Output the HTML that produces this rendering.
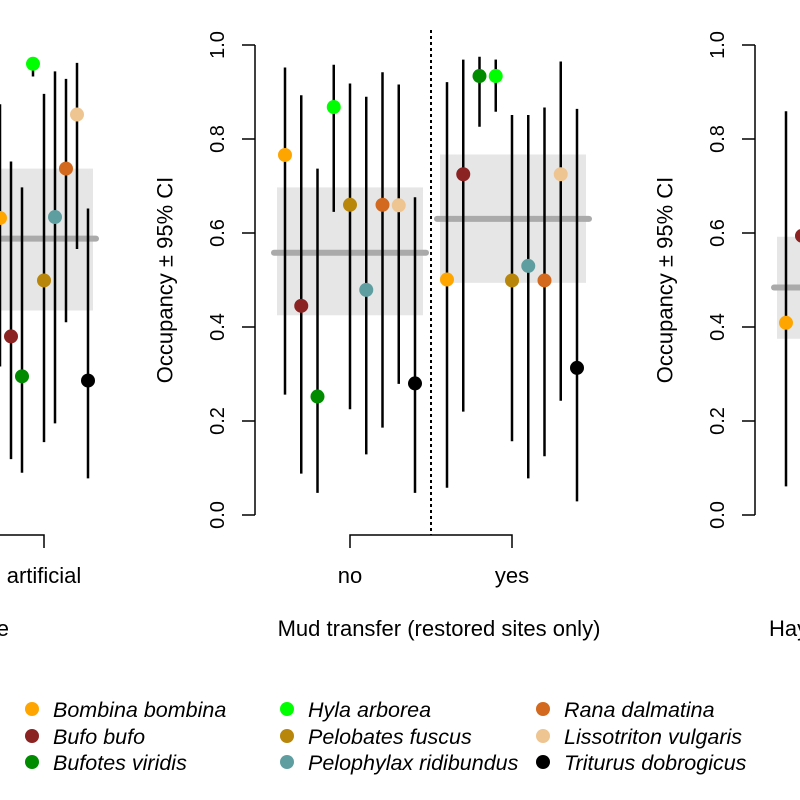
<!DOCTYPE html>
<html><head><meta charset="utf-8"><style>
html,body{margin:0;padding:0;background:#fff;}
svg{display:block;font-family:"Liberation Sans",Arial,sans-serif;}
</style></head><body>
<svg id="chart" width="800" height="800" viewBox="0 0 800 800" xmlns="http://www.w3.org/2000/svg"></svg>
<script>
const species = ["Bombina bombina","Bufo bufo","Bufotes viridis","Hyla arborea","Pelobates fuscus","Pelophylax ridibundus","Rana dalmatina","Lissotriton vulgaris","Triturus dobrogicus"];
const colors = ["#FFA500","#8B2323","#008B00","#00FF00","#B8860B","#5F9EA0","#D2691E","#EEC591","#000000"];
// Left panel (artificial category)
const leftEst = [0.632,0.380,0.295,0.960,0.499,0.634,0.737,0.852,0.286];
const leftLo  = [0.316,0.119,0.090,0.933,0.155,0.195,0.410,0.566,0.078];
const leftHi  = [0.874,0.752,0.697,0.970,0.896,0.944,0.928,0.962,0.652];
const leftGroup = [0.588,0.435,0.737]; // mean, lo, hi
// Middle panel: mud transfer no / yes
const noEst = [0.766,0.445,0.252,0.868,0.660,0.479,0.660,0.659,0.280];
const noLo  = [0.256,0.088,0.047,0.645,0.225,0.129,0.186,0.279,0.047];
const noHi  = [0.952,0.893,0.737,0.958,0.918,0.890,0.942,0.916,0.676];
const noGroup = [0.558,0.425,0.697];
const yesEst = [0.501,0.725,0.934,0.934,0.499,0.530,0.499,0.725,0.313];
const yesLo  = [0.058,0.220,0.826,0.858,0.157,0.078,0.125,0.243,0.029];
const yesHi  = [0.921,0.969,0.975,0.969,0.851,0.851,0.867,0.965,0.864];
const yesGroup = [0.630,0.494,0.767];
// Right panel (partially visible)
const rightEst = [0.409,0.594];
const rightLo  = [0.061,0.300];
const rightHi  = [0.859,0.900];
const rightGroup = [0.484,0.375,0.592];
const yTicks = [0,0.2,0.4,0.6,0.8,1.0];
const yTickLabels = ["0.0","0.2","0.4","0.6","0.8","1.0"];

const svg = document.getElementById('chart');
const NS = "http://www.w3.org/2000/svg";
function y(v){ return 515 - v*470; }
function mk(tag, attrs, parent){
  const e = document.createElementNS(NS, tag);
  for (const k in attrs) e.setAttribute(k, attrs[k]);
  (parent||svg).appendChild(e);
  return e;
}
function group(name){
  const g = mk('g', {});
  
  
  return g;
}
function drawGroup(name, cx, spacing, est, lo, hi, grp, x0, x1){
  const g = group(name);
  const r = mk('rect', {x:x0, y:y(grp[2]), width:x1-x0, height:y(grp[1])-y(grp[2]), fill:'#e6e6e6'}, g);
  
  
  const m = mk('line', {x1:x0-3, x2:x1+3, y1:y(grp[0]), y2:y(grp[0]), stroke:'#aaaaaa', 'stroke-width':6, 'stroke-linecap':'round'}, g);
  
  
  for (let i=0;i<est.length;i++){
    const x = cx + (i-4)*spacing;
    const l = mk('line', {x1:x, x2:x, y1:y(hi[i]), y2:y(lo[i]), stroke:'#000', 'stroke-width':2.5}, g);
    
    
    const c = mk('circle', {cx:x, cy:y(est[i]), r:7, fill:colors[i]}, g);
    
    
  }
}
function drawYAxis(ax, name){
  const g = group(name);
  mk('line', {x1:ax, x2:ax, y1:y(1), y2:y(0), stroke:'#000', 'stroke-width':1.5}, g);
  yTicks.forEach((t,i)=>{
    mk('line', {x1:ax-13, x2:ax, y1:y(t), y2:y(t), stroke:'#000', 'stroke-width':1.5}, g);
    const tx = mk('text', {x:0, y:0, transform:`translate(${ax-37},${y(t)}) rotate(-90)`, 'text-anchor':'middle', 'dominant-baseline':'central', 'font-size':20}, g);
    tx.textContent = yTickLabels[i];
    
    
  });
  const lab = mk('text', {x:0, y:0, transform:`translate(${ax-90},${y(0.5)}) rotate(-90)`, 'text-anchor':'middle', 'dominant-baseline':'central', 'font-size':22}, g);
  lab.textContent = 'Occupancy \u00B1 95% CI';
  
  
}
function text(x, yy, s, name, anchor){
  const t = mk('text', {x:x, y:yy, 'text-anchor':anchor||'middle', 'font-size':22});
  t.textContent = s;
  
  
  return t;
}

// Left panel
drawGroup('left-artificial', 44, 11, leftEst, leftLo, leftHi, leftGroup, -60, 93);
mk('path', {d:'M -10 535 H 44 V 548', fill:'none', stroke:'#000', 'stroke-width':1.5});
text(44, 583, 'artificial', 'x-label-artificial');
text(9, 636, 'Pond type', 'left-x-axis-title', 'end');

// Middle panel
drawYAxis(255, 'middle-y-axis');
drawGroup('middle-no', 350, 16.25, noEst, noLo, noHi, noGroup, 277, 423);
drawGroup('middle-yes', 512, 16.25, yesEst, yesLo, yesHi, yesGroup, 440, 586);
const dl = mk('line', {x1:431, x2:431, y1:30, y2:535, stroke:'#000', 'stroke-width':2, 'stroke-dasharray':'3,3'});


mk('path', {d:'M 350 548 V 535 H 512 V 548', fill:'none', stroke:'#000', 'stroke-width':1.5});
text(350, 583, 'no', 'x-label-no');
text(512, 583, 'yes', 'x-label-yes');
text(439, 636, 'Mud transfer (restored sites only)', 'middle-x-axis-title');

// Right panel
drawYAxis(755, 'right-y-axis');
drawGroup('right-first', 850, 16, rightEst, rightLo, rightHi, rightGroup, 777, 900);
text(769, 636, 'Hay transfer', 'right-x-axis-title', 'start');

// Legend
const leg = group('legend');
const legX = [32, 287, 543];
const legY = [709, 736, 762];
species.forEach((s,i)=>{
  const col = Math.floor(i/3), row = i%3;
  const e = mk('g', {}, leg);
  
  
  mk('circle', {cx:legX[col], cy:legY[row], r:7, fill:colors[i]}, e);
  const t = mk('text', {x:legX[col]+21, y:legY[row]+8, 'font-size':21.5, 'font-style':'italic'}, e);
  t.textContent = s;
});
</script>
</body></html>
